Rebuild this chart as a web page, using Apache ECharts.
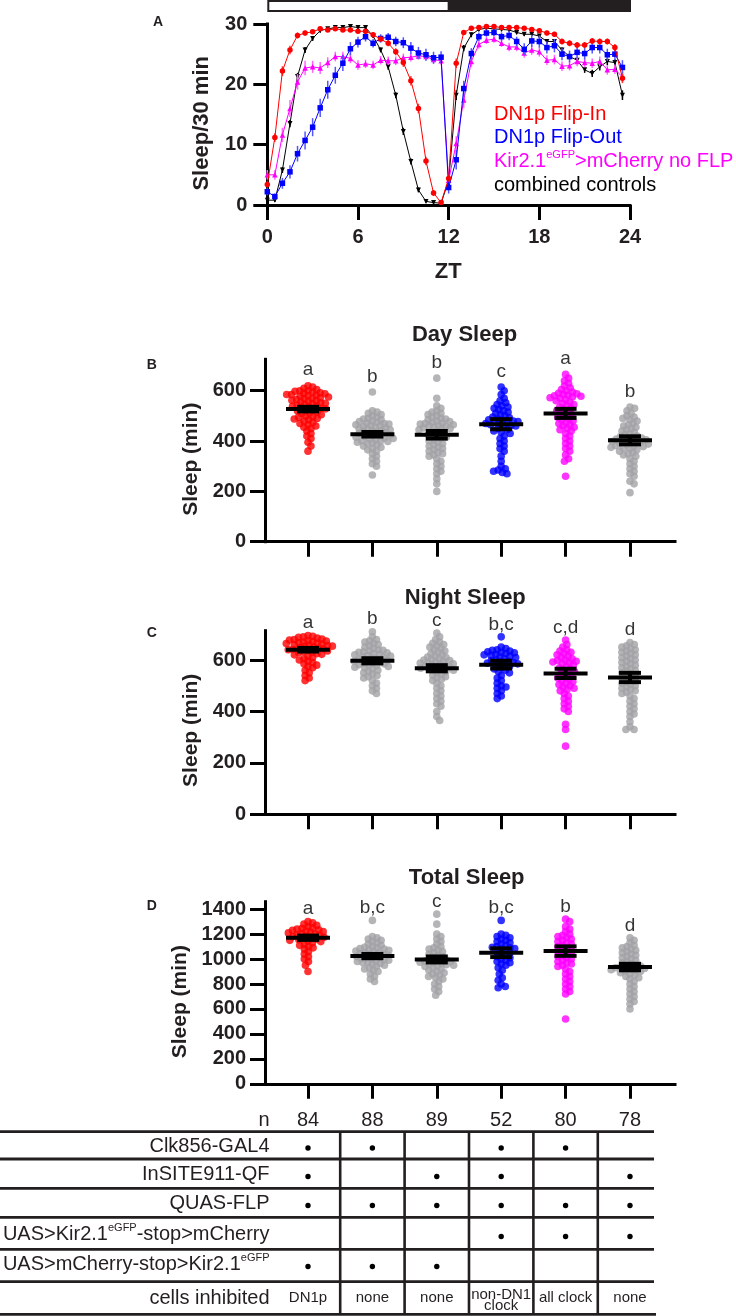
<!DOCTYPE html>
<html><head><meta charset="utf-8">
<script src="https://cdn.jsdelivr.net/npm/echarts@6/dist/echarts.min.js"></script>
<style>html,body{margin:0;padding:0;background:#fff}#c{width:736px;height:1316px}</style>
</head><body><div id="c"></div>
<script>
// ---------- Panel A data ----------
const zt = [0,0.5,1,1.5,2,2.5,3,3.5,4,4.5,5,5.5,6,6.5,7,7.5,8,8.5,9,9.5,10,10.5,11,11.5,12,12.5,13,13.5,14,14.5,15,15.5,16,16.5,17,17.5,18,18.5,19,19.5,20,20.5,21,21.5,22,22.5,23,23.5];
const flipIn = [3.4,11.2,22.2,25.7,28.1,28.5,28.7,29.2,29.0,29.2,29.0,29.0,28.8,28.8,28.2,27.5,26.8,25.4,23.6,20.6,16.0,7.3,2.0,0.4,4.4,23.5,28.6,29.3,29.4,29.6,29.6,29.4,29.4,29.4,29.3,29.1,28.9,28.5,28.3,27.1,26.8,26.5,26.5,27.2,27.1,27.1,26.1,21.0];
const flipInSem = [0.5,0.7,0.8,0.7,0.5,0.4,0.3,0.3,0.3,0.3,0.3,0.3,0.3,0.3,0.4,0.4,0.5,0.6,0.7,0.8,0.8,0.7,0.5,0.3,0.5,0.8,0.4,0.3,0.3,0.3,0.3,0.3,0.3,0.3,0.3,0.3,0.4,0.4,0.4,0.5,0.5,0.5,0.5,0.5,0.5,0.5,0.6,0.8];
const flipOut = [2.2,1.4,3.6,5.5,8.5,10.7,12.9,16.1,19.1,21.5,23.5,25.9,27.0,27.9,26.8,27.6,27.8,27.1,26.9,26.0,25.2,24.9,24.4,24.5,2.9,7.5,19.3,25.1,27.9,28.5,28.6,27.9,28.1,27.1,25.8,27.2,27.1,26.1,26.4,25.0,24.6,25.3,25.1,26.1,26.1,24.9,25.0,22.8];
const flipOutSem = [0.6,0.5,0.9,1.1,1.3,1.5,1.5,1.5,1.5,1.4,1.3,1.1,0.9,0.8,0.7,0.7,0.7,0.8,0.9,1.0,1.0,1.0,1.0,1.0,1.0,1.6,1.3,0.9,0.7,0.6,0.6,0.7,0.8,0.8,1.0,1.0,1.0,1.0,1.1,1.0,1.0,1.0,1.0,1.0,1.0,1.0,1.0,1.2];
const noFlp = [5.0,5.0,11.6,16.0,20.4,22.7,22.9,22.7,23.6,24.6,24.6,24.3,23.2,23.4,23.2,24.0,23.9,23.9,24.4,24.5,24.7,24.6,24.1,23.9,4.1,10.2,17.4,23.8,26.6,27.3,27.5,26.8,26.2,26.2,25.2,25.7,25.4,24.0,24.1,23.0,23.1,23.8,23.6,23.5,23.8,22.4,22.5,21.2];
const noFlpSem = [0.8,0.8,1.2,1.4,1.3,1.2,1.0,1.0,0.9,0.8,0.8,0.8,0.8,0.7,0.7,0.7,0.7,0.7,0.7,0.7,0.6,0.6,0.6,0.6,0.8,1.2,1.3,0.9,0.7,0.6,0.6,0.6,0.7,0.7,0.8,0.8,0.8,0.8,0.8,0.8,0.8,0.8,0.8,0.8,0.8,0.8,0.8,0.9];
const controls = [0.8,0.8,5.8,13.5,21.3,25.7,27.6,28.9,29.2,29.4,29.4,29.6,29.4,29.4,28.0,25.7,22.9,18.2,12.2,7.2,2.5,0.6,0.4,0.3,4.1,18.2,26.0,28.2,29.1,29.3,29.2,29.1,29.0,28.6,28.3,28.3,28.0,27.1,27.1,25.7,24.6,24.0,22.4,21.8,22.9,23.8,23.6,18.2];
const controlsSem = [0.3,0.3,0.5,0.6,0.6,0.5,0.4,0.3,0.2,0.2,0.2,0.2,0.2,0.2,0.3,0.4,0.5,0.5,0.6,0.5,0.4,0.2,0.2,0.2,0.5,0.8,0.5,0.4,0.3,0.3,0.3,0.3,0.3,0.3,0.3,0.3,0.3,0.4,0.4,0.4,0.5,0.5,0.5,0.6,0.6,0.6,0.6,0.8];
const lightPhases = [[0,12,0],[12,24,1]];
const legendNames = ['DN1p Flip-In','DN1p Flip-Out','Kir2.1{s|eGFP}>mCherry no FLP','combined controls'];
const yTicksA = [0,10,20,30];
const xTicksA = [0,6,12,18,24];

// ---------- Panels B-D data (sleep in min, per fly) ----------
const dayValues = [
 [620,615,610,605,600,600,598,595,592,590,588,585,585,582,580,578,575,572,570,568,565,562,560,558,555,552,550,548,545,542,540,538,535,532,530,528,525,522,520,515,512,510,505,500,498,495,490,488,485,480,475,470,465,460,455,450,440,430,420,410,395,380,360],
 [595,520,515,510,505,500,495,490,488,485,480,478,475,472,470,468,465,462,460,458,455,452,450,448,445,442,440,438,435,432,430,428,425,422,420,418,415,412,410,408,405,402,400,398,395,392,390,385,380,375,370,365,360,350,340,330,320,310,300,265],
 [650,570,540,530,520,515,510,505,500,495,490,488,485,480,478,475,472,470,468,465,462,460,458,455,452,450,448,445,440,435,430,425,420,415,410,405,400,395,390,385,380,375,370,365,360,355,350,345,340,330,320,310,300,290,280,270,250,230,200],
 [615,600,585,570,560,552,545,540,535,530,525,520,515,510,505,500,495,492,488,485,482,480,478,475,472,470,468,465,462,460,455,450,445,440,435,430,420,410,400,390,380,370,360,340,320,300,290,285,280,275,270],
 [665,650,640,630,620,612,605,600,595,590,588,585,582,580,578,575,572,570,565,560,555,550,545,540,535,530,525,520,515,510,505,500,495,490,485,480,475,470,465,460,455,450,445,440,430,420,410,400,390,380,370,360,345,330,320,260],
 [535,530,520,510,500,495,490,485,480,470,465,460,455,450,445,440,435,430,425,420,418,415,412,410,408,405,402,400,398,395,392,390,388,385,382,380,378,375,372,370,365,360,355,350,345,340,330,320,310,300,290,280,270,260,240,230,195]
];
const dayMeans = [527,427,425,467,510,403];
const daySems = [9,9,15,20,18,16];
const dayLetters = ['a','b','b','c','a','b'];

const nightValues = [
 [695,692,690,688,685,682,680,678,676,674,672,670,668,666,664,662,660,658,656,654,652,650,648,646,644,642,640,638,635,632,630,628,625,622,620,615,610,605,600,595,590,585,580,575,570,560,550,540,530,520],
 [710,690,680,675,670,665,660,655,650,645,640,638,635,632,630,628,625,622,620,618,615,612,610,608,605,602,600,598,595,592,590,588,585,582,580,578,575,572,570,565,560,555,550,545,540,535,530,520,510,500,490,480,470],
 [705,690,680,670,665,660,655,650,645,640,635,630,625,620,615,612,610,605,602,600,598,595,592,590,588,585,582,580,578,575,572,570,568,565,562,560,555,550,545,540,535,530,525,520,510,500,490,480,470,460,450,440,430,420,400,380,365],
 [690,650,645,640,638,635,632,630,628,625,622,620,618,615,612,610,605,600,598,595,592,590,588,585,582,580,575,570,565,560,555,550,540,530,520,510,500,495,490,480,470,460,450],
 [678,660,650,640,635,630,625,620,615,610,605,600,598,595,592,590,585,580,575,570,565,560,555,550,545,540,535,530,525,520,515,510,505,500,495,490,485,480,470,460,450,440,430,420,410,400,350,330,265],
 [668,660,655,650,645,640,635,630,625,620,615,610,605,600,595,590,585,580,575,570,565,560,555,550,545,540,535,530,525,520,515,510,505,500,495,490,485,480,475,470,460,450,440,430,420,410,400,390,380,360,340,330,330]
];
const nightMeans = [640,597,568,582,548,532];
const nightSems = [7,10,12,15,18,18];
const nightLetters = ['a','b','c','b,c','c,d','d'];

const totalValues = [
 [1300,1290,1280,1270,1260,1250,1245,1240,1235,1230,1225,1220,1215,1210,1205,1200,1195,1190,1185,1180,1175,1170,1165,1160,1155,1150,1145,1140,1130,1120,1110,1100,1090,1080,1060,1040,1020,1000,980,950,900],
 [1310,1180,1170,1160,1150,1140,1130,1120,1110,1100,1095,1090,1085,1080,1075,1070,1065,1060,1055,1050,1045,1040,1035,1030,1025,1020,1015,1010,1005,1000,995,990,985,980,975,970,965,960,950,940,930,920,910,900,880,860,840,820],
 [1360,1280,1200,1180,1160,1140,1120,1100,1090,1080,1070,1060,1050,1040,1030,1020,1010,1000,995,990,985,980,975,970,965,960,955,950,945,940,930,920,910,900,890,880,870,860,850,840,820,800,780,760,740,710],
 [1310,1200,1190,1180,1170,1160,1150,1140,1130,1120,1110,1100,1095,1090,1085,1080,1070,1060,1050,1040,1030,1020,1010,1000,990,980,970,960,950,930,910,880,850,830,800,780,770],
 [1320,1300,1260,1240,1220,1200,1190,1180,1170,1160,1150,1140,1130,1120,1110,1100,1090,1080,1070,1060,1050,1040,1030,1020,1010,1000,990,980,970,960,950,940,920,900,880,860,840,820,800,780,760,740,720,520],
 [1170,1150,1130,1110,1100,1090,1080,1070,1060,1050,1040,1030,1020,1010,1000,990,980,970,960,950,945,940,935,930,925,920,915,910,905,900,890,880,870,860,850,840,820,800,780,760,740,720,700,680,660,640,600]
];
const totalMeans = [1171,1024,997,1051,1064,936];
const totalSems = [17,17,24,35,38,26];
const totalLetters = ['a','b,c','c','b,c','b','d'];

const panelTitles = ['Day Sleep','Night Sleep','Total Sleep'];
const yTicksDay = [0,200,400,600];
const yTicksNight = [0,200,400,600];
const yTicksTotal = [0,200,400,600,800,1000,1200,1400];

// ---------- Table data ----------
const nValues = [84,88,89,52,80,78];
const tableRows = ['Clk856-GAL4','InSITE911-QF','QUAS-FLP','UAS>Kir2.1{s|eGFP}-stop>mCherry','UAS>mCherry-stop>Kir2.1{s|eGFP}'];
const tableMarks = [
 [1,1,0,1,1,0],
 [1,0,1,1,0,1],
 [1,1,1,1,1,1],
 [0,0,0,1,1,1],
 [1,1,1,0,0,0]
];
const cellsInhibited = ['DN1p','none','none','non-DN1\nclock','all clock','none'];

// ---------- Rendering ----------
const FONT = '"Liberation Sans", Arial, Helvetica, sans-serif';
const TXT = '#231f20';
const GRAY = '#a2a2a6';
const groupColors = ['#ff0000', GRAY, GRAY, '#0000ff', '#ff00ff', GRAY];
const XMIN = -0.6677, XMAX = 5.699;

const chart = echarts.init(document.getElementById('c'), null, {renderer:'canvas', width:736, height:1316});

const gridA = {left:267.3, top:24, width:362.7, height:181};
const panels = [
 {vals:dayValues, means:dayMeans, sems:daySems, letters:dayLetters, max:725, ticks:yTicksDay, grid:{left:265, top:359.3, width:410, height:182.4}, gap:6},
 {vals:nightValues, means:nightMeans, sems:nightSems, letters:nightLetters, max:714, ticks:yTicksNight, grid:{left:265, top:630.7, width:410, height:183.6}, gap:3},
 {vals:totalValues, means:totalMeans, sems:totalSems, letters:totalLetters, max:1460, ticks:yTicksTotal, grid:{left:265, top:901.7, width:410, height:182.1}, gap:3}
];

function swarm(vals, kY, D) {
  const sorted = vals.slice().sort((a,b)=>b-a);
  const placed = [];
  for (const v of sorted) {
    const y = v*kY;
    const cands = [0];
    for (const p of placed) {
      const dy = Math.abs(p.y - y);
      if (dy < D) { const dx = Math.sqrt(D*D - dy*dy); cands.push(p.x + dx + 0.01, p.x - dx - 0.01); }
    }
    cands.sort((a,b)=>Math.abs(a)-Math.abs(b));
    let chosen = 0;
    for (const c of cands) {
      let ok = true;
      for (const p of placed) { const ddx = p.x - c, ddy = p.y - y; if (ddx*ddx + ddy*ddy < D*D - 0.02) { ok = false; break; } }
      if (ok) { chosen = c; break; }
    }
    placed.push({x:chosen, y, v});
  }
  return placed;
}

const lineAx = {show:true, onZero:false, lineStyle:{color:'#000', width:3, cap:'square'}};
const boldLabel = {color:TXT, fontFamily:FONT, fontWeight:'bold', fontSize:20, formatter:(v)=>String(v)};

const grids = [gridA].concat(panels.map(p=>p.grid));
const xAxes = [{
  gridIndex:0, type:'value', min:0, max:24, interval:6,
  axisLine:lineAx, axisTick:{show:true, length:15, lineStyle:{color:'#000', width:3}, customValues:xTicksA},
  axisLabel:Object.assign({margin:22, customValues:xTicksA}, boldLabel), splitLine:{show:false}
}];
const yAxes = [{
  gridIndex:0, type:'value', min:0, max:30, interval:10,
  axisLine:lineAx, axisTick:{show:true, length:14, lineStyle:{color:'#000', width:3}, customValues:yTicksA},
  axisLabel:Object.assign({margin:20, customValues:yTicksA}, boldLabel), splitLine:{show:false}
}];
panels.forEach((p, k) => {
  xAxes.push({gridIndex:k+1, type:'value', min:XMIN, max:XMAX,
    axisLine:lineAx, axisTick:{show:true, length:15, lineStyle:{color:'#000', width:3}, customValues:[0,1,2,3,4,5]},
    axisLabel:{show:false}, splitLine:{show:false}});
  yAxes.push({gridIndex:k+1, type:'value', min:0, max:p.max,
    axisLine:lineAx, axisTick:{show:true, length:15, lineStyle:{color:'#000', width:3}, customValues:p.ticks},
    axisLabel:Object.assign({margin:19, customValues:p.ticks}, boldLabel), splitLine:{show:false}});
});

const series = [];
// light/dark bar
series.push({type:'custom', xAxisIndex:0, yAxisIndex:0, data:lightPhases, clip:false, silent:true,
  renderItem:(params, api) => {
    const s = api.coord([api.value(0), 30]), e = api.coord([api.value(1), 30]);
    const top = s[1] - 24;
    if (api.value(2) === 1) return {type:'rect', shape:{x:s[0], y:top, width:e[0]-s[0]+1, height:12}, style:{fill:TXT}};
    return {type:'rect', shape:{x:s[0]+1, y:top+1, width:e[0]-s[0]-1, height:10}, style:{fill:'#fff', stroke:TXT, lineWidth:2}};
  }});
const aSeries = [
  {vals:controls, sem:controlsSem, color:'#000000', err:'#000000', symbol:'triangle', rot:180, size:5},
  {vals:noFlp, sem:noFlpSem, color:'#ff00ff', err:'#ff66ff', symbol:'triangle', rot:0, size:5.5},
  {vals:flipOut, sem:flipOutSem, color:'#0000ff', err:'#5555ff', symbol:'rect', rot:0, size:5.5},
  {vals:flipIn, sem:flipInSem, color:'#ff0000', err:'#ff3333', symbol:'circle', rot:0, size:5.5}
];
aSeries.forEach((s, k) => {
  series.push({type:'custom', xAxisIndex:0, yAxisIndex:0, z:2+k*2, silent:true,
    data: zt.map((x,i)=>[x, s.vals[i]-s.sem[i], s.vals[i]+s.sem[i]]),
    renderItem:(params, api) => {
      const a = api.coord([api.value(0), api.value(1)]), b = api.coord([api.value(0), api.value(2)]);
      return {type:'line', shape:{x1:a[0], y1:a[1], x2:b[0], y2:b[1]}, style:{stroke:s.err, lineWidth:1.5}};
    }});
  series.push({type:'line', xAxisIndex:0, yAxisIndex:0, z:3+k*2, data: zt.map((x,i)=>[x, s.vals[i]]),
    symbol:s.symbol, symbolRotate:s.rot, symbolSize:s.size, showSymbol:true,
    lineStyle:{color:s.color, width:1}, itemStyle:{color:s.color}});
});

panels.forEach((p, k) => {
  const kY = p.grid.height / p.max;
  const pxPerUnit = p.grid.width / (XMAX - XMIN);
  const pts = [];
  p.vals.forEach((vals, i) => {
    swarm(vals, kY, 4.8).forEach(q => pts.push({value:[i + q.x/pxPerUnit, q.v], itemStyle:{color:groupColors[i]}}));
  });
  series.push({type:'scatter', xAxisIndex:k+1, yAxisIndex:k+1, data:pts, symbolSize:7.6, z:2, silent:true});
  series.push({type:'custom', xAxisIndex:k+1, yAxisIndex:k+1, z:5, silent:true,
    data: p.means.map((m,i)=>[i, m, p.sems[i]]),
    renderItem:(params, api) => {
      const i = api.value(0), m = api.value(1), s = api.value(2);
      const c = api.coord([i, m]), hi = api.coord([i, m+s]), lo = api.coord([i, m-s]);
      const st = {stroke:'#000', lineWidth:4};
      return {type:'group', children:[
        {type:'line', shape:{x1:c[0]-22, y1:c[1], x2:c[0]+22, y2:c[1]}, style:st},
        {type:'line', shape:{x1:c[0]-11, y1:hi[1], x2:c[0]+11, y2:hi[1]}, style:st},
        {type:'line', shape:{x1:c[0]-11, y1:lo[1], x2:c[0]+11, y2:lo[1]}, style:st},
        {type:'line', shape:{x1:c[0], y1:hi[1], x2:c[0], y2:lo[1]}, style:st}
      ]};
    }});
  series.push({type:'scatter', xAxisIndex:k+1, yAxisIndex:k+1, z:6, silent:true, symbolSize:0.1,
    data: p.vals.map((vals,i)=>[i, Math.max.apply(null, vals)]),
    itemStyle:{color:'transparent'},
    label:{show:true, position:'top', distance:p.gap, formatter:(pp)=>p.letters[pp.dataIndex],
      color:'#000', fontFamily:FONT, fontSize:19}});
});

chart.setOption({animation:false, backgroundColor:'#fff', grid:grids, xAxis:xAxes, yAxis:yAxes, series:series});

// ---------- static texts and table ----------
const g = [];
function txt(text, x, y, size, opts) {
  const o = Object.assign({weight:'normal', align:'center', color:TXT, rot:0}, opts||{});
  g.push({type:'text', x:x, y:y, rotation:o.rot, silent:true, z:10,
    style:{text:text, x:0, y:0, fill:o.color, font:o.weight+' '+size+'px '+FONT,
      fontSize:size, fontWeight:o.weight, fontFamily:FONT,
      align:o.align, textAlign:o.align, verticalAlign:'middle', textVerticalAlign:'middle',
      lineHeight:o.lh, rich:o.rich}});
}
const supRich = (size, color) => ({
  n:{fontSize:size, fontFamily:FONT, fill:color, color:color, lineHeight:size+4},
  s:{fontSize:Math.round(size*0.56), fontFamily:FONT, fill:color, color:color, verticalAlign:'top', lineHeight:Math.round(size*0.62)}
});
function richWrap(t){ return t.split(/(\{s\|[^}]*\})/).map(part => part.startsWith('{s|') ? part : (part ? '{n|'+part+'}' : '')).join(''); }

// panel letters
txt('A', 158, 21.7, 14, {weight:'bold'});
txt('B', 151.7, 365, 14, {weight:'bold'});
txt('C', 151.7, 633, 14, {weight:'bold'});
txt('D', 151.7, 906, 14, {weight:'bold'});
// axis titles
txt('Sleep/30 min', 201.7, 123.3, 22, {weight:'bold', rot:Math.PI/2});
txt('ZT', 448.3, 271.7, 22, {weight:'bold'});
txt('Sleep (min)', 190.8, 459.2, 21, {weight:'bold', rot:Math.PI/2});
txt('Sleep (min)', 190.8, 730.3, 21, {weight:'bold', rot:Math.PI/2});
txt('Sleep (min)', 180, 1001.7, 21, {weight:'bold', rot:Math.PI/2});
// panel titles
txt(panelTitles[0], 464.5, 335, 22, {weight:'bold'});
txt(panelTitles[1], 465.3, 598.3, 22, {weight:'bold'});
txt(panelTitles[2], 466.7, 878.3, 22, {weight:'bold'});
// legend A
const legColors = ['#ff0000','#0000ff','#ff00ff','#000000'];
const legY = [114.3, 137.7, 161, 185.7];
legendNames.forEach((nm, i) => txt(richWrap(nm), 494, legY[i], 20, {align:'left', color:legColors[i], rich:supRich(20, legColors[i])}));

// table
const colX = nValues.map((_, i) => chart.convertToPixel({xAxisIndex:3}, i));
const lineYs = [1131.7, 1159, 1188.3, 1217.3, 1249.3, 1281.7, 1314.3];
const rowY = [1146, 1174.5, 1203.5, 1234.5, 1264.5, 1298];
const ln = (x1,y1,x2,y2,w) => g.push({type:'line', silent:true, z:10, shape:{x1,y1,x2,y2}, style:{stroke:TXT, lineWidth:w}});
lineYs.forEach((y, i) => ln(0, y, i === lineYs.length-1 ? 656 : 654, y, 2.8));
for (let i = 0; i < colX.length-1; i++) { const x = (colX[i]+colX[i+1])/2; ln(x, lineYs[0], x, lineYs[lineYs.length-1], 2.6); }
txt('n', 269.5, 1120, 20, {align:'right'});
nValues.forEach((n, i) => txt(String(n), colX[i], 1120, 20));
tableRows.forEach((r, j) => {
  txt(richWrap(r), 269.5, rowY[j], 20, {align:'right', rich:supRich(20, TXT)});
  tableMarks[j].forEach((m, i) => { if (m) g.push({type:'circle', silent:true, z:10, shape:{cx:colX[i], cy:rowY[j]+2, r:2.7}, style:{fill:'#000'}}); });
});
txt('cells inhibited', 269.5, 1298, 20, {align:'right'});
cellsInhibited.forEach((c, i) => txt(c, colX[i], c.indexOf('\n') >= 0 ? 1300 : 1298, 15, {lh:11}));

chart.setOption({graphic:{elements:g}});
</script>
</body></html>
